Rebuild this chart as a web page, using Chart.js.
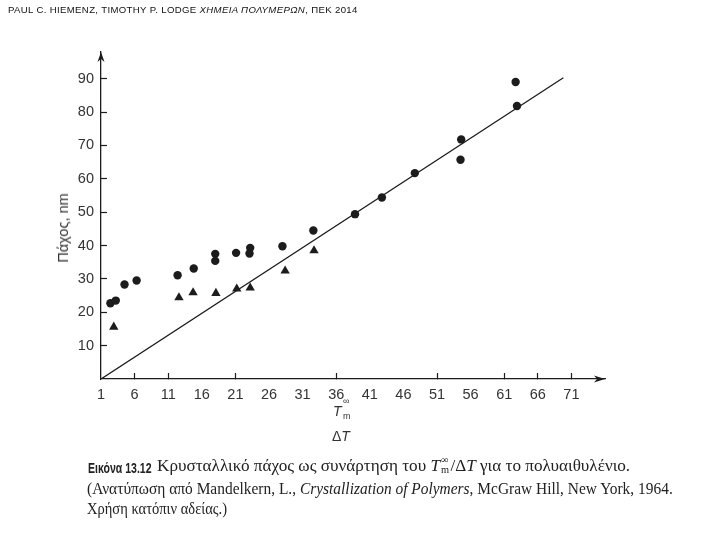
<!DOCTYPE html>
<html>
<head>
<meta charset="utf-8">
<script src="https://cdn.jsdelivr.net/npm/chart.js@4.4.1/dist/chart.umd.min.js"></script>
<style>
  body { margin: 0; background: #fff; }
  #wrap { position: relative; width: 720px; height: 540px; overflow: hidden; }
  #chart { position: absolute; left: 0; top: 0; }
  .abs { position: absolute; white-space: nowrap; line-height: 1; }
  .hdr { left: 8px; top: 4px; font: 9.6px "Liberation Sans", Arial, sans-serif; color: #111; letter-spacing: 0.35px; }
  .ytitle { left: 63px; top: 228px; transform: translate(-50%, -50%) rotate(-90deg); font: 14.5px "Liberation Sans", Arial, sans-serif; color: #333; }
  .ax { font-family: "Liberation Sans", Arial, sans-serif; color: #333; }
  .cap { font-family: "Liberation Serif", "Times New Roman", serif; font-size: 16.5px; color: #222; transform-origin: left center; }
  .lbl { left: 88px; top: 459px; font: bold 15.5px "Liberation Sans", Arial, sans-serif; color: #222; transform: scaleX(0.68); transform-origin: left center; }
</style>
</head>
<body>
<div id="wrap">
  <canvas id="chart" width="720" height="540"></canvas>
  <div class="abs hdr">PAUL C. HIEMENZ, TIMOTHY P. LODGE <i>ΧΗΜΕΙΑ ΠΟΛΥΜΕΡΩΝ</i>, ΠΕΚ 2014</div>
  <div class="abs ytitle">Πάχος, nm</div>
  <div class="abs ax" style="left:333px; top:404px; font-size:14px; font-style:italic;">T</div>
  <div class="abs ax" style="left:343px; top:397px; font-size:9px;">∞</div>
  <div class="abs ax" style="left:343px; top:412px; font-size:9px;">m</div>
  <div class="abs ax" style="left:332px; top:429px; font-size:14px;">Δ<i>T</i></div>
  <div class="abs lbl">Εικόνα 13.12</div>
  <div class="abs cap" style="left:157px; top:458px; transform:scaleX(1.04);">Κρυσταλλικό πάχος ως συνάρτηση του <i>T</i><span style="position:relative; display:inline-block; width:10px; height:10px;"><span style="position:absolute; left:1px; top:-6px; font-size:10px;">∞</span><span style="position:absolute; left:1px; top:4px; font-size:10px;">m</span></span>/Δ<i>T</i> για το πολυαιθυλένιο.</div>
  <div class="abs cap" style="left:87px; top:481px; transform:scaleX(0.935);">(Ανατύπωση από Mandelkern, L., <i>Crystallization of Polymers</i>, McGraw Hill, New York, 1964.</div>
  <div class="abs cap" style="left:87px; top:501px; transform:scaleX(0.88);">Χρήση κατόπιν αδείας.)</div>
</div>
<script>
// values (x = Tm/ΔT, y = thickness in nm)
const circleX = [2.4, 3.2, 4.5, 6.3, 12.4, 14.8, 18.0, 18.0, 21.1, 23.2, 23.1, 28.0, 32.6, 38.8, 42.8, 47.7, 54.6, 54.5, 62.7, 62.9];
const circleY = [22.7, 23.5, 28.3, 29.5, 31.1, 33.1, 37.5, 35.4, 37.8, 39.3, 37.6, 39.8, 44.5, 49.4, 54.4, 61.7, 71.8, 65.7, 89.0, 81.8];
const triangleX = [2.9, 12.6, 14.7, 18.1, 21.2, 23.2, 28.4, 32.7];
const triangleY = [15.6, 24.4, 25.9, 25.7, 27.0, 27.3, 32.4, 38.5];
const fitX = [1, 69.8];
const fitY = [0, 90.3];
const xTickLabels = [1, 6, 11, 16, 21, 26, 31, 36, 41, 46, 51, 56, 61, 66, 71];
const xTickMarks = [6, 11, 21, 36, 51, 61, 66, 71];
const yTickLabels = [10, 20, 30, 40, 50, 60, 70, 80, 90];

const toPoints = (xs, ys) => xs.map((x, i) => ({ x: x, y: ys[i] }));
const ink = "#1c1c1c";

// arrow heads at the ends of both axes
const axisArrows = {
  id: "axisArrows",
  afterDraw(chart) {
    const { ctx, scales } = chart;
    const x0 = scales.x.left, xr = scales.x.right;
    const y0 = scales.y.bottom, yt = scales.y.top;
    ctx.save();
    ctx.fillStyle = ink;
    ctx.beginPath();
    ctx.moveTo(xr, y0);
    ctx.lineTo(xr - 11, y0 - 3.5);
    ctx.lineTo(xr - 8, y0);
    ctx.lineTo(xr - 11, y0 + 3.5);
    ctx.closePath();
    ctx.fill();
    ctx.beginPath();
    ctx.moveTo(x0, yt);
    ctx.lineTo(x0 - 3.5, yt + 10);
    ctx.lineTo(x0, yt + 7);
    ctx.lineTo(x0 + 3.5, yt + 10);
    ctx.closePath();
    ctx.fill();
    ctx.restore();
  },
};

new Chart(document.getElementById("chart"), {
  type: "scatter",
  data: {
    datasets: [
      {
        label: "circles",
        data: toPoints(circleX, circleY),
        pointStyle: "circle",
        pointRadius: 4.2,
        backgroundColor: ink,
        borderColor: ink,
        borderWidth: 0,
      },
      {
        label: "triangles",
        data: toPoints(triangleX, triangleY),
        pointStyle: "triangle",
        pointRadius: 5.4,
        backgroundColor: ink,
        borderColor: ink,
        borderWidth: 0,
      },
      {
        type: "line",
        label: "fit",
        data: toPoints(fitX, fitY),
        borderColor: ink,
        borderWidth: 1.3,
        pointRadius: 0,
        fill: false,
      },
    ],
  },
  options: {
    responsive: false,
    animation: false,
    layout: { padding: { left: 0, top: 52, right: 115, bottom: 121 } },
    plugins: { legend: { display: false }, tooltip: { enabled: false } },
    scales: {
      x: {
        type: "linear",
        min: 1,
        max: 76,
        afterBuildTicks: (s) => { s.ticks = xTickLabels.map((v) => ({ value: v })); },
        afterFit: (s) => { s.height = 40; },
        border: { display: true, color: ink, width: 1.3 },
        grid: {
          drawOnChartArea: false,
          tickLength: -6,
          tickWidth: 1.2,
          tickColor: (c) => (c.tick && xTickMarks.includes(c.tick.value) ? ink : "rgba(0,0,0,0)"),
        },
        ticks: {
          padding: 13,
          maxRotation: 0,
          autoSkip: false,
          color: "#333",
          font: { family: "'Liberation Sans', Arial, sans-serif", size: 14.5 },
        },
      },
      y: {
        min: 0,
        max: 98,
        afterBuildTicks: (s) => { s.ticks = yTickLabels.map((v) => ({ value: v })); },
        afterFit: (s) => { s.width = 101; },
        border: { display: true, color: ink, width: 1.3 },
        grid: { drawOnChartArea: false, tickLength: -6, tickWidth: 1.2, tickColor: ink },
        ticks: {
          padding: 13,
          color: "#333",
          font: { family: "'Liberation Sans', Arial, sans-serif", size: 14.5 },
        },
      },
    },
  },
  plugins: [axisArrows],
});
</script>
</body>
</html>
